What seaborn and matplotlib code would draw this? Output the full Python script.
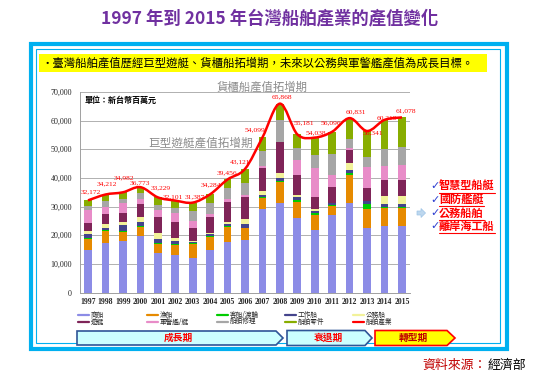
import matplotlib
matplotlib.use("Agg")
import matplotlib.pyplot as plt
from matplotlib.path import Path
from matplotlib.patches import PathPatch, Rectangle, Polygon
from matplotlib.lines import Line2D
import seaborn as sns
import numpy as np

# ---- data (unit: NT$ million) ----
years = ['1997', '1998', '1999', '2000', '2001', '2002', '2003', '2004', '2005', '2006',
         '2007', '2008', '2009', '2010', '2011', '2012', '2013', '2014', '2015']

merchant = [15000, 17400, 18000, 19900, 13700, 13100, 12100, 14900, 17800, 18400,
            29000, 31400, 25900, 21800, 27100, 31400, 22700, 23200, 23200]
fishing = [3800, 4100, 3100, 2900, 3400, 3500, 5000, 4600, 5200, 4000,
           4000, 7300, 5800, 5300, 3100, 9600, 6300, 6200, 6200]
ferry = [400, 400, 300, 500, 300, 400, 200, 300, 400, 300,
         300, 200, 600, 800, 500, 600, 1900, 600, 600]
workboat = [1400, 500, 2100, 1500, 1200, 900, 400, 600, 600, 1200,
            700, 900, 900, 500, 500, 1100, 1000, 800, 800]
official = [900, 1400, 1200, 1700, 2100, 1000, 400, 300, 700, 1700,
            1500, 1800, 800, 600, 200, 2600, 200, 2900, 2900]
yacht = [2900, 3500, 3200, 4500, 5800, 5700, 4500, 5800, 7000, 7900,
         8000, 10800, 7000, 4500, 5300, 4400, 4300, 5600, 5700]
military = [4400, 2700, 3200, 1600, 2300, 3000, 2400, 800, 800, 500,
            500, 200, 5200, 9800, 4300, 800, 7300, 4800, 5000]
repair = [1500, 2000, 1500, 2100, 1900, 1800, 3300, 4100, 3900, 4100,
          5500, 7600, 4100, 4700, 7300, 2900, 3700, 5900, 6400]
parts = [1900, 2200, 2400, 2100, 2500, 2700, 3100, 2900, 3100, 5000,
         4600, 5700, 4900, 6000, 7800, 7400, 8900, 10200, 10300]
total = [32172, 34212, 34982, 36773, 33229, 32101, 31387, 34284, 39456, 43121,
         54099, 65868, 55181, 54038, 56096, 60831, 56341, 60219, 61078]

series_names = ['商船', '漁船', '客船/渡輪', '工作船', '公務船',
                '遊艇', '軍警艦/艇', '船舶修理', '船舶零件']
series_vals = [merchant, fishing, ferry, workboat, official, yacht, military, repair, parts]
colors = ['#8C8CE6', '#E68A00', '#00CC00', '#44448C', '#F2F29A',
          '#7F2458', '#E88CC8', '#A6A6A6', '#88AD00']

# label offsets of the red numbers (px right, px up)
lab_dx = [3, 1, 1, 0, 3, -2, 2, 1, -1, -5, -8, 2, 7, 1, -1, 6, 6, 2, 4]
lab_dy = [8.5, 10.5, 14, 4, 9, 4, 5.5, 9, 7, 7, 8, 6.5, 11.5, 5, 9, 6, -2, 2, 7]

W, H = 543, 378


def fx(x):
    return x / W


def fy(y):
    return 1 - y / H


sns.set_theme(style="white")
plt.rcParams['font.family'] = ['Noto Sans CJK TC', 'DejaVu Sans']

fig = plt.figure(figsize=(W / 100, H / 100), dpi=100)
fig.patch.set_facecolor('white')
renderer = fig.canvas.get_renderer()

# outer frame
fig.add_artist(Rectangle((fx(31), fy(349)), fx(507) - fx(31), fy(44) - fy(349),
                         transform=fig.transFigure, fill=False, edgecolor='#00B0F0', lw=3))
fig.add_artist(Rectangle((fx(36), fy(343)), fx(500) - fx(36), fy(49) - fy(343),
                         transform=fig.transFigure, fill=False, edgecolor='#00B0F0', lw=0.8))

# title
fig.text(fx(270), fy(18), '1997 年到 2015 年台灣船舶產業的產值變化', color='#7030A0',
         fontsize=12.5, fontweight='bold', ha='center', va='center')

# yellow banner
fig.add_artist(Rectangle((fx(39), fy(72)), fx(487) - fx(39), fy(54) - fy(72),
                         transform=fig.transFigure, facecolor='#FFFF00', edgecolor='none'))
fig.text(fx(41), fy(63), '•臺灣船舶產值歷經巨型遊艇、貨櫃船拓增期，未來以公務與軍警艦產值為成長目標。',
         fontsize=8.2, color='black', ha='left', va='center')

# ---- chart ----
ax = fig.add_axes([fx(80), fy(292.7), (410 - 80) / W, (292.7 - 91.8) / H])
ax.set_facecolor('white')

cum = np.cumsum(np.array(series_vals), axis=0)
for i in range(len(series_vals) - 1, -1, -1):
    sns.barplot(x=years, y=cum[i], order=years, color=colors[i], width=0.44,
                saturation=1, errorbar=None, linewidth=0, ax=ax)

# smoothed total line (Catmull-Rom -> cubic bezier)
px = np.arange(len(years), dtype=float)
py = np.array(total, dtype=float)
verts = [(px[0], py[0])]
codes = [Path.MOVETO]
n = len(px)
for i in range(n - 1):
    p0 = (px[max(i - 1, 0)], py[max(i - 1, 0)])
    p1 = (px[i], py[i])
    p2 = (px[i + 1], py[i + 1])
    p3 = (px[min(i + 2, n - 1)], py[min(i + 2, n - 1)])
    c1 = (p1[0] + (p2[0] - p0[0]) / 6, p1[1] + (p2[1] - p0[1]) / 6)
    c2 = (p2[0] - (p3[0] - p1[0]) / 6, p2[1] - (p3[1] - p1[1]) / 6)
    verts += [c1, c2, p2]
    codes += [Path.CURVE4] * 3
ax.add_patch(PathPatch(Path(verts, codes), fill=False, edgecolor='#FF0000', lw=1.8, zorder=5))

for i, v in enumerate(total):
    ax.annotate(f'{v:,}', xy=(i, v), xytext=(lab_dx[i] * 0.72, lab_dy[i] * 0.72),
                textcoords='offset points', ha='center', va='center', color='#FF0000',
                fontsize=5.4, family='Liberation Serif', zorder=6)

ax.set_xlim(-0.46, 18.46)
ax.set_ylim(0, 70000)
ax.set_yticks(range(0, 70001, 10000))
ax.set_yticklabels(['0'] + [f'{t:,}' for t in range(10000, 70001, 10000)],
                   family='Liberation Serif', fontsize=5.8)
ax.set_xticks(range(len(years)))
ax.set_xticklabels(years, family='Liberation Serif', fontsize=5.6, fontweight='bold')
ax.tick_params(axis='y', length=0, pad=5.8)
ax.tick_params(axis='x', length=0, pad=3.5)
ax.set_xlabel('')
ax.set_ylabel('')
ax.yaxis.grid(True, color='#B0B0B0', lw=0.7)
ax.set_axisbelow(True)
for s in ['top', 'right']:
    ax.spines[s].set_visible(False)
for s in ['left', 'bottom']:
    ax.spines[s].set_color('#A0A0A0')
    ax.spines[s].set_linewidth(0.7)

ax.text(0.015, 0.955, '單位：新台幣百萬元', transform=ax.transAxes, fontsize=5.8,
        fontweight='bold', ha='left', va='center', color='black')
fig.text(fx(217), fy(87), '貨櫃船產值拓增期', fontsize=8.2, color='#8C8C8C',
         ha='left', va='center')
fig.text(fx(148), fy(143), '巨型遊艇產值拓增期', fontsize=8.4, color='#8C8C8C',
         ha='left', va='center')

# ---- legend (2 rows x 5 columns) ----
leg_names = series_names + ['船舶產業']
leg_colors = colors + ['#FF0000']
col_x = [78, 147, 217, 285, 353]
row_y = [315, 322]
for k in range(len(leg_names)):
    r, c = divmod(k, 5)
    x0, y0 = col_x[c], row_y[r]
    fig.add_artist(Line2D([fx(x0), fx(x0 + 11)], [fy(y0), fy(y0)], transform=fig.transFigure,
                          color=leg_colors[k], lw=1.6))
    fig.text(fx(x0 + 13), fy(y0), leg_names[k], fontsize=4.8, ha='left', va='center')

# ---- right side list ----
items = ['智慧型船艇', '國防艦艇', '公務船舶', '離岸海工船']
item_y = [186.5, 199.5, 213, 226.5]
for t, y in zip(items, item_y):
    fig.text(fx(430), fy(y), '✓', fontsize=8, color='#2E3FD0', ha='left', va='center',
             family='DejaVu Sans', fontweight='bold')
    txt = fig.text(fx(439), fy(y), t, fontsize=8, color='#FF0000', fontweight='bold',
                   ha='left', va='center')
    bb = txt.get_window_extent(renderer)
    fig.add_artist(Line2D([bb.x0 / W, bb.x1 / W], [fy(y + 6.5), fy(y + 6.5)],
                          transform=fig.transFigure, color='#FF0000', lw=0.8))
arrow_pts = [(417, 211), (421, 211), (421, 208.5), (425.5, 213), (421, 217.5), (421, 215), (417, 215)]
fig.add_artist(Polygon([(fx(a), fy(b)) for a, b in arrow_pts], closed=True, transform=fig.transFigure,
                       facecolor='#BDD7EE', edgecolor='#9DC3E6', lw=0.5))


# ---- phase arrows ----
def phase(x0, x1, tip, y0, y1, face, edge, label, tcolor, tx):
    ym = (y0 + y1) / 2
    pts = [(x0, y0), (x1, y0), (tip, ym), (x1, y1), (x0, y1)]
    fig.add_artist(Polygon([(fx(a), fy(b)) for a, b in pts], closed=True, transform=fig.transFigure,
                           facecolor=face, edgecolor=edge, lw=1.2))
    fig.text(fx(tx), fy(ym), label, fontsize=7, color=tcolor, fontweight='bold',
             ha='center', va='center')


phase(77, 276, 283, 331, 345, '#CCFFFF', '#2F5597', '成長期', '#FF0000', 178)
phase(287, 365, 372, 330.5, 345.5, '#CCFFFF', '#2F5597', '衰退期', '#FF0000', 328)
phase(375, 447, 455, 330.5, 345.5, '#FFFF00', '#FF0000', '轉型期', '#C00000', 413)

# source
src = fig.text(fx(422), fy(365), '資料來源：', fontsize=9.3, color='#C00000', ha='left', va='center')
sb = src.get_window_extent(renderer)
fig.text(sb.x1 / W + 1.5 / W, fy(365), '經濟部', fontsize=9.3, color='black', ha='left', va='center')

fig.savefig('out.png', dpi=100)
